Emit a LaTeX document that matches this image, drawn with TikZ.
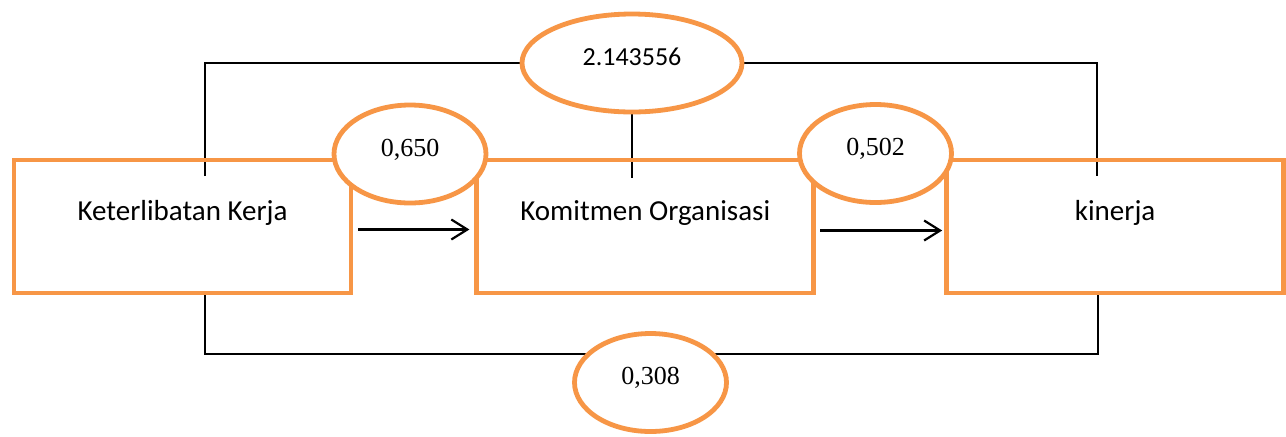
\documentclass[tikz,border=0pt]{standalone}
\usepackage{fontspec}
\setmainfont{Liberation Serif}
\newfontfamily\calibri{Carlito}
\usepackage{tikz}
\usetikzlibrary{arrows.meta,positioning,shapes.geometric,backgrounds}
\definecolor{accent}{RGB}{247,150,70}

\begin{document}
\begin{tikzpicture}[
  x=0.5pt, y=-0.5pt,
  varbox/.style={draw=accent,line width=2.4pt,inner sep=0pt,minimum width=168.5pt,minimum height=66.5pt,
    font=\calibri\fontsize{14.5}{17}\selectfont,text height=10pt,text depth=16.5pt},
  coef/.style={ellipse,draw=accent,fill=white,line width=2.4pt,inner sep=0pt,minimum width=76pt,minimum height=49pt,
    font=\fontsize{13}{15}\selectfont,text height=9pt,text depth=7pt},
  link/.style={line width=0.8pt},
  >={Straight Barb[length=8pt,width=10pt]}]

\begin{scope}[on background layer]
\path[fill=white,use as bounding box] (0,0) rectangle (1286,436);
\end{scope}

% variables
\node[varbox] (kk) at (182.5,226.5) {Keterlibatan Kerja};
\node[varbox,right=60.5pt of kk] (ko) {Komitmen Organisasi};
\node[varbox,right=64pt of ko] (kin) {kinerja};

% path coefficients
\node[coef,minimum width=110pt,font=\calibri\fontsize{13}{15}\selectfont] (tot) at (632,63) {2.143556};
\node[coef] (c650) at (410,154) {0,650};
\node[coef] (c502) at (875.5,153.5) {0,502};
\node[coef] (c308) at (650.5,382.5) {0,308};

\coordinate (kktop) at (205,176);
\coordinate (kotop) at (632,178);
\coordinate (kintop) at (1097,176);
\coordinate (kkbot) at (205,294);
\coordinate (kinbot) at (1098,294);
\coordinate (rail) at (650,354);

\begin{scope}[on background layer]
\draw[link] (kktop) |- (tot.west);
\draw[link] (tot.east) -| (kintop);
\draw[link] (tot.south) -- (kotop);
\draw[link] (kkbot) |- (rail) -| (kinbot);
\end{scope}

\draw[->,line width=1.1pt,shorten <=2.5pt,shorten >=2.5pt] ([yshift=-1.5pt]kk.east) -- ([yshift=-1.5pt]ko.west);
\draw[->,line width=1.1pt,shorten <=2pt,shorten >=1pt] ([yshift=-2pt]ko.east) -- ([yshift=-2pt]kin.west);
\end{tikzpicture}
\end{document}
